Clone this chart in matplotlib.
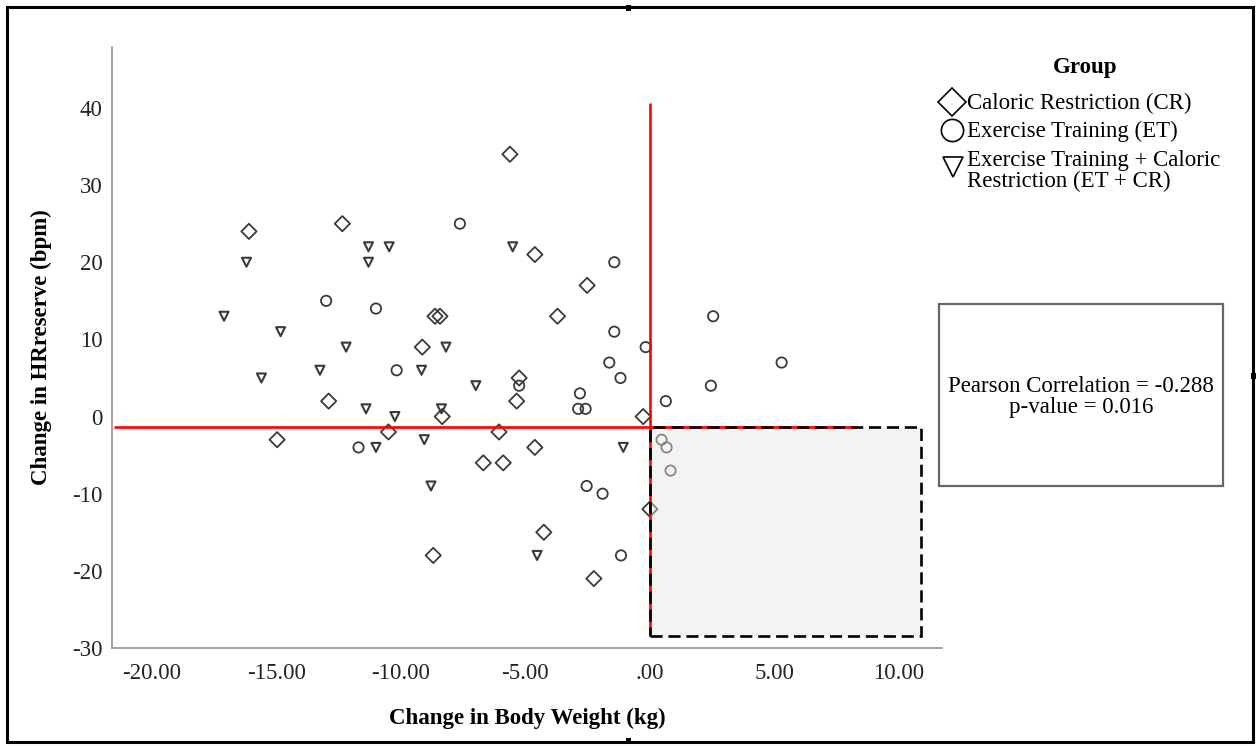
import matplotlib
matplotlib.use("Agg")
import matplotlib.pyplot as plt
from matplotlib.patches import Rectangle

# ---------------- data ----------------
cr_x = [-16.1, -12.35, -5.62, -4.62, -2.52, -3.71, -8.63, -8.43, -12.9, -14.97,
        -10.5, -9.14, -5.25, -5.35, -8.34, -0.27, -6.06, -4.62, -6.69, -5.89,
        0.0, -4.26, -8.7, -2.25]
cr_y = [24, 25, 34, 21, 17, 13, 13, 13, 2, -3,
        -2, 9, 5, 2, 0, 0, -2, -4, -6, -6,
        -12, -15, -18, -21]

et_x = [-7.63, -1.43, -13.0, -11.0, -1.43, -0.17, -10.17, -1.63, -1.18, -5.25,
        -2.81, -2.88, -2.58, -11.7, -2.54, -1.9, -1.16, 2.54, 5.29, 2.45,
        0.64, 0.47, 0.67, 0.83]
et_y = [25, 20, 15, 14, 11, 9, 6, 7, 5, 4,
        3, 1, 1, -4, -9, -10, -18, 13, 7, 4,
        2, -3, -4, -7]

etcr_x = [-11.3, -10.47, -5.51, -16.2, -11.3, -17.1, -14.83, -12.2, -13.25, -15.6,
          -11.4, -11.0, -8.19, -9.17, -6.99, -10.24, -8.37, -9.06, -1.07, -8.79,
          -4.53]
etcr_y = [22, 22, 22, 20, 20, 13, 11, 9, 6, 5,
          1, -4, 9, 6, 4, 0, 1, -3, -4, -9,
          -18]

x_ticks = [-20, -15, -10, -5, 0, 5, 10]
x_tick_labels = ["-20.00", "-15.00", "-10.00", "-5.00", ".00", "5.00", "10.00"]
y_ticks = [-30, -20, -10, 0, 10, 20, 30, 40]
y_tick_labels = ["-30", "-20", "-10", "0", "10", "20", "30", "40"]

legend_labels = ["Caloric Restriction (CR)", "Exercise Training (ET)",
                 "Exercise Training + Caloric\nRestriction (ET + CR)"]
stats_text = "Pearson Correlation = -0.288\np-value = 0.016"

# reference (quadrant) lines and shaded region
ref_x = 0.0
ref_y = -1.4
red_v_top = 40.6
red_h_left = -21.5
red_h_right = 8.3
box_right = 10.9
box_bottom = -28.4

# ---------------- figure ----------------
W, H = 1259, 746
FS = 16.5
plt.rcParams['font.family'] = ['Liberation Serif', 'DejaVu Serif']
fig = plt.figure(figsize=(W / 100, H / 100), dpi=100)
fig.patch.set_facecolor('white')

def fx(px):
    return px / W

def fy(py):
    return 1 - py / H

ax = fig.add_axes([fx(112), fy(648), (942 - 112) / W, (648 - 47) / H])
ax.set_xlim(-21.6, 11.73)
ax.set_ylim(-30, 47.9)
for s in ['top', 'right']:
    ax.spines[s].set_visible(False)
for s in ['left', 'bottom']:
    ax.spines[s].set_color('#9a9a9a')
    ax.spines[s].set_linewidth(1.3)

ax.set_xticks(x_ticks)
ax.set_xticklabels(x_tick_labels)
ax.set_yticks(y_ticks)
ax.set_yticklabels(y_tick_labels)
ax.tick_params(axis='both', length=0, labelsize=FS, colors='#222222')
ax.tick_params(axis='x', pad=11)
ax.tick_params(axis='y', pad=7)

ax.set_xlabel("Change in Body Weight (kg)", fontsize=FS, fontweight='bold', labelpad=17)
ax.set_ylabel("Change in HRreserve (bpm)", fontsize=FS, fontweight='bold', labelpad=14)

mk_col = '#3a3a3a'
ax.scatter(cr_x, cr_y, marker='D', s=60, facecolors='none', edgecolors=mk_col,
           linewidths=1.3, zorder=2)
ax.scatter(et_x, et_y, marker='o', s=55, facecolors='none', edgecolors=mk_col,
           linewidths=1.3, zorder=2)
ax.scatter(etcr_x, etcr_y, marker='v', s=42, facecolors='none', edgecolors=mk_col,
           linewidths=1.5, zorder=2)

# red reference lines
ax.plot([red_h_left, red_h_right], [ref_y, ref_y], color='#ff0000', lw=1.9, zorder=4,
        solid_capstyle='butt')
ax.plot([ref_x, ref_x], [box_bottom, red_v_top], color='#ff0000', lw=1.9, zorder=4,
        solid_capstyle='butt')

# shaded box
ax.add_patch(Rectangle((ref_x, box_bottom), box_right - ref_x, ref_y - box_bottom,
                       facecolor=(0.9, 0.9, 0.9, 0.45), edgecolor='none', zorder=3))
ax.add_patch(Rectangle((ref_x, box_bottom), box_right - ref_x, ref_y - box_bottom,
                       facecolor='none', edgecolor='black', lw=1.9,
                       linestyle=(0, (4.6, 2.2)), zorder=5))

# ---------------- overlay (legend, stats box, frame) ----------------
ov = fig.add_axes([0, 0, 1, 1])
ov.set_xlim(0, W)
ov.set_ylim(H, 0)
ov.axis('off')
ov.patch.set_alpha(0)

# outer frame
ov.add_patch(Rectangle((7, 7), 1253 - 7, 742 - 7, facecolor='none', edgecolor='black', lw=2.2))
for (hx, hy, hw, hh) in [(626, 5, 5, 6), (626, 738, 5, 6), (1251, 373, 5, 6)]:
    ov.add_patch(Rectangle((hx, hy), hw, hh, facecolor='black', edgecolor='none'))

# legend
ov.text(1085, 68, "Group", fontsize=FS, fontweight='bold', ha='center', va='center')
ov.plot(952, 102, marker='D', ms=14.5, mfc='white', mec='black', mew=1.2)
ov.plot(952, 130, marker='o', ms=16, mfc='white', mec='black', mew=1.2)
ov.plot(953, 167, marker='v', ms=14.5, mfc='white', mec='black', mew=1.2)
ov.text(967, 103, legend_labels[0], fontsize=FS, ha='left', va='center')
ov.text(967, 131, legend_labels[1], fontsize=FS, ha='left', va='center')
ov.text(967, 171, legend_labels[2], fontsize=FS, ha='left', va='center', linespacing=1.05)

# stats box
ov.add_patch(Rectangle((939, 304), 1223 - 939, 486 - 304, facecolor='white',
                       edgecolor='#666666', lw=1.6))
ov.text(1081, 397, stats_text, fontsize=FS, ha='center', va='center', linespacing=1.0)

fig.savefig("out.png", dpi=100)
